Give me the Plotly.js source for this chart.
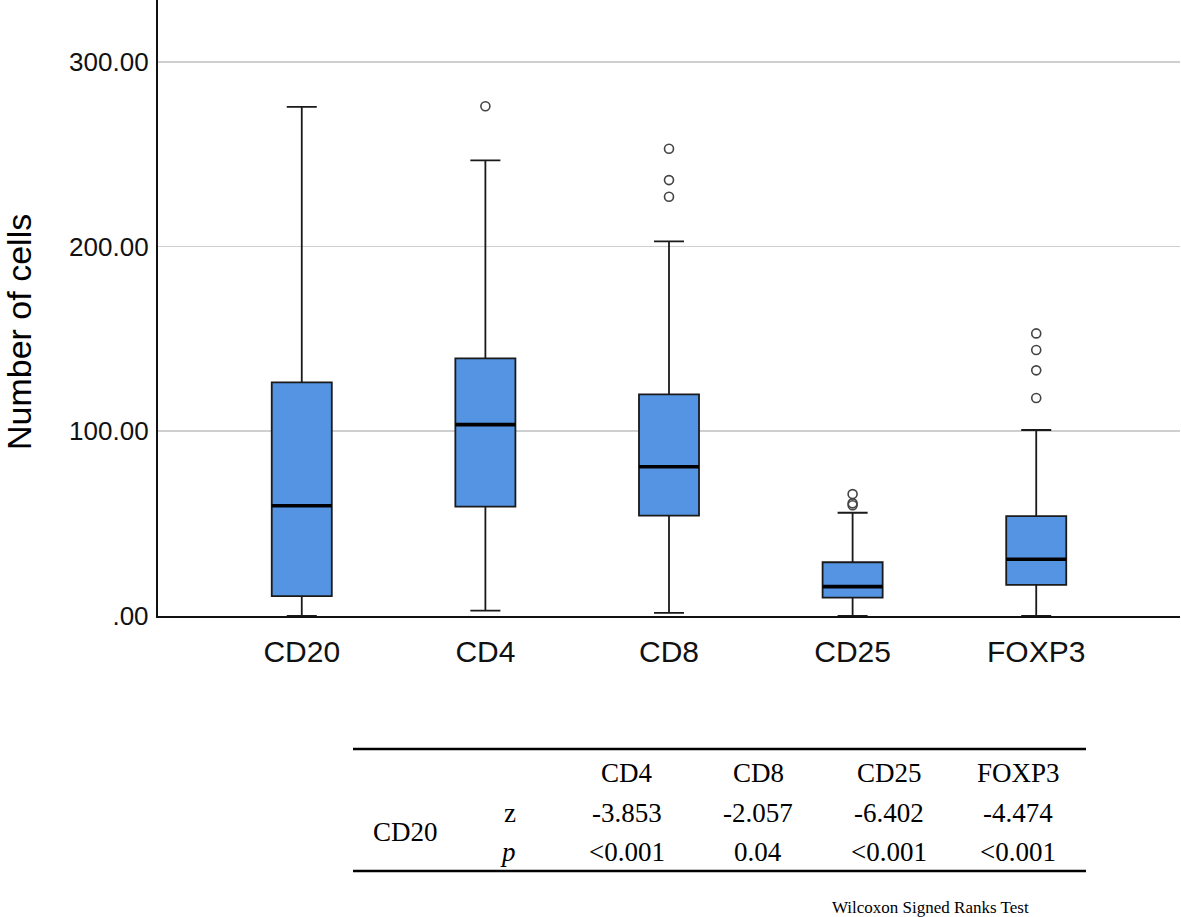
<!DOCTYPE html>
<html>
<head>
<meta charset="utf-8">
<script src="https://cdn.plot.ly/plotly-3.0.1.min.js"></script>
<style>
  html, body { margin: 0; padding: 0; background: #fff; }
  #chart { width: 1181px; height: 917px; }
</style>
</head>
<body>
<div id="chart"></div>
<script>
// ---- data ----
const categories = ['CD20', 'CD4', 'CD8', 'CD25', 'FOXP3'];
const lowerWhisker = [0, 2.9, 1.7, 0, 0];
const q1 = [10.8, 59.2, 54.3, 9.9, 16.8];
const medians = [59.7, 103.6, 80.8, 15.9, 30.7];
const q3 = [126.5, 139.5, 120.0, 29.1, 54.1];
const upperWhisker = [275.6, 246.7, 202.8, 55.9, 100.7];
const outliersCD20 = [];
const outliersCD4 = [276];
const outliersCD8 = [253, 236, 227];
const outliersCD25 = [66, 61, 60];
const outliersFOXP3 = [153, 144, 133, 118];
const yTickVals = [0, 100, 200, 300];
const yTickText = ['.00', '100.00', '200.00', '300.00'];

// Wilcoxon table
const tableCols = ['CD4', 'CD8', 'CD25', 'FOXP3'];
const tableZ = ['-3.853', '-2.057', '-6.402', '-4.474'];
const tableP = ['<0.001', '0.04', '<0.001', '<0.001'];
const tableRowLabel = 'CD20';
const tableNote = 'Wilcoxon Signed Ranks Test';

// ---- layout geometry ----
const W = 1181, H = 917;
const M = { l: 158, r: 1, t: 0, b: 301 };
const plotW = W - M.l - M.r, plotH = H - M.t - M.b;
const px = x => (x - M.l) / plotW;
const py = y => (H - M.b - y) / plotH;

const boxWidth = 0.327;
const positions = categories.map((c, i) => i);

const boxTrace = {
  type: 'box',
  x: positions,
  q1: q1,
  median: medians,
  q3: q3,
  lowerfence: lowerWhisker,
  upperfence: upperWhisker,
  width: boxWidth,
  whiskerwidth: 0.5,
  boxpoints: false,
  fillcolor: '#5594E3',
  line: { color: '#1a1a1a', width: 1.8 },
  showlegend: false,
  hoverinfo: 'skip'
};

// thick median bars
const medX = [], medY = [];
positions.forEach((p, i) => {
  medX.push(p - boxWidth / 2, p + boxWidth / 2, null);
  medY.push(medians[i], medians[i], null);
});
const medianTrace = {
  type: 'scatter', mode: 'lines', x: medX, y: medY,
  line: { color: '#000', width: 3.6 }, showlegend: false, hoverinfo: 'skip'
};

const allOutliers = [outliersCD20, outliersCD4, outliersCD8, outliersCD25, outliersFOXP3];
const oX = [], oY = [];
allOutliers.forEach((arr, i) => arr.forEach(v => { oX.push(positions[i]); oY.push(v); }));
const outlierTrace = {
  type: 'scatter', mode: 'markers', x: oX, y: oY,
  marker: { symbol: 'circle-open', size: 9, color: '#444', line: { width: 1.6, color: '#444' } },
  showlegend: false, hoverinfo: 'skip', cliponaxis: false
};

// ---- table annotations & lines ----
const annotations = [];
const serif = { family: 'Liberation Serif, Times New Roman, serif', size: 27, color: '#000' };
const colX = [627, 758, 889, 1018];
const headerY = 773, zY = 813, pY = 852;
tableCols.forEach((c, i) => {
  annotations.push({ text: c, x: px(colX[i]), y: py(headerY), xref: 'paper', yref: 'paper', showarrow: false, font: serif, xanchor: 'center', yanchor: 'middle' });
  annotations.push({ text: tableZ[i], x: px(colX[i]), y: py(zY), xref: 'paper', yref: 'paper', showarrow: false, font: serif, xanchor: 'center', yanchor: 'middle' });
  annotations.push({ text: tableP[i], x: px(colX[i]), y: py(pY), xref: 'paper', yref: 'paper', showarrow: false, font: serif, xanchor: 'center', yanchor: 'middle' });
});
annotations.push({ text: tableRowLabel, x: px(405), y: py(832), xref: 'paper', yref: 'paper', showarrow: false, font: serif, xanchor: 'center', yanchor: 'middle' });
annotations.push({ text: 'z', x: px(510), y: py(zY), xref: 'paper', yref: 'paper', showarrow: false, font: serif, xanchor: 'center', yanchor: 'middle' });
annotations.push({ text: '<i>p</i>', x: px(508), y: py(pY), xref: 'paper', yref: 'paper', showarrow: false, font: serif, xanchor: 'center', yanchor: 'middle' });
annotations.push({ text: tableNote, x: px(1031), y: py(907), xref: 'paper', yref: 'paper', showarrow: false,
  font: { family: 'Liberation Serif, Times New Roman, serif', size: 17, color: '#000' }, xanchor: 'right', yanchor: 'middle' });

// y-axis title
annotations.push({ text: 'Number of cells', x: px(19), y: py(332), xref: 'paper', yref: 'paper', showarrow: false,
  textangle: -90, font: { family: 'Liberation Sans, Arial, sans-serif', size: 34, color: '#000' }, xanchor: 'center', yanchor: 'middle' });

const shapes = [
  { type: 'line', xref: 'paper', yref: 'paper', x0: px(353), x1: px(1086), y0: py(749), y1: py(749), line: { color: '#000', width: 2.5 } },
  { type: 'line', xref: 'paper', yref: 'paper', x0: px(353), x1: px(1086), y0: py(871), y1: py(871), line: { color: '#000', width: 2.5 } }
];

const layout = {
  width: W, height: H,
  margin: M,
  paper_bgcolor: '#fff', plot_bgcolor: '#fff',
  showlegend: false,
  xaxis: {
    range: [-0.783, 4.783],
    tickmode: 'array', tickvals: positions, ticktext: categories,
    showgrid: false, zeroline: false,
    showline: true, linecolor: '#111', linewidth: 2.2,
    ticks: '', ticklabelstandoff: 8,
    tickfont: { family: 'Liberation Sans, Arial, sans-serif', size: 30, color: '#111' },
    fixedrange: true
  },
  yaxis: {
    range: [0, 333.5],
    tickmode: 'array', tickvals: yTickVals, ticktext: yTickText,
    showgrid: true, gridcolor: '#cfcfcf', gridwidth: 1.6,
    zeroline: false,
    showline: true, linecolor: '#111', linewidth: 2.2,
    ticks: '', ticklabelstandoff: 2,
    tickfont: { family: 'Liberation Sans, Arial, sans-serif', size: 26, color: '#111' },
    fixedrange: true
  },
  annotations: annotations,
  shapes: shapes
};

Plotly.newPlot('chart', [boxTrace, medianTrace, outlierTrace], layout, { staticPlot: true, displayModeBar: false });
</script>
</body>
</html>
